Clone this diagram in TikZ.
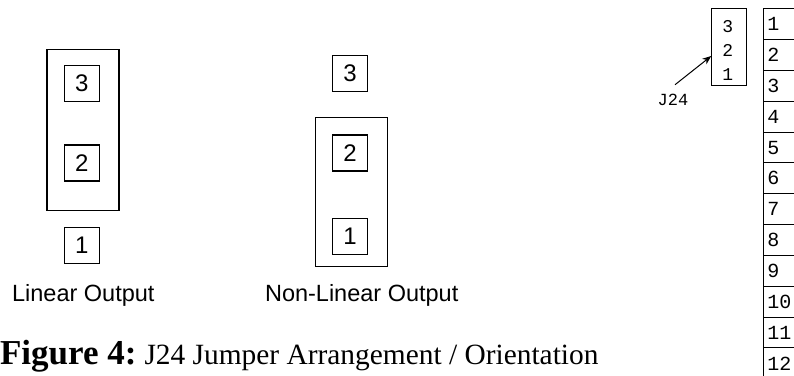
\documentclass[tikz,border=0pt]{standalone}
\usepackage{fontspec}
\setmainfont{Liberation Serif}
\setsansfont{Liberation Sans}
\setmonofont{Liberation Mono}
\usetikzlibrary{arrows.meta,positioning}
\tikzset{
  pinbox/.style={draw, line width=1.2pt, minimum width=35pt, minimum height=36pt, inner sep=0pt, font=\sffamily\fontsize{24}{24}\selectfont},
  jumper/.style={draw, line width=1.2pt, minimum width=72pt, inner sep=0pt},
  outlabel/.style={font=\sffamily\fontsize{23.5}{24}\selectfont, inner sep=0pt, anchor=base},
  tcell/.style={draw, anchor=north west, text width=36pt, inner xsep=3.5pt, inner ysep=0pt, minimum height=30.83pt, align=left, font=\ttfamily\fontsize{20}{20}\selectfont}}

\begin{document}
\begin{tikzpicture}[x=1pt,y=-1pt,line width=1pt]
   \useasboundingbox (0,0) rectangle (794,375);
   \clip (0,0) rectangle (794,375);
   % linear output
   \begin{scope}
    \node[jumper, minimum height=161pt] (linbox) at (82.9,130) {};
    \node[pinbox] (lin3) at (81.7, 83.3) {3};
    \node[pinbox] (lin2) at (81.7,163.0) {2};
    \node[pinbox] (lin1) at (81.7,245.7) {1};
    \node[outlabel] (linlbl) at (83.3,301.7) {Linear Output};
   \end{scope}
   % non-linear output
   \begin{scope}
    \node[jumper, minimum height=149pt] (nonbox) at (351.2,192) {};
    \node[pinbox] (non3) at (350, 73.7) {3};
    \node[pinbox] (non2) at (350,153.0) {2};
    \node[pinbox] (non1) at (350,236.3) {1};
    \node[outlabel] (nonlbl) at (361.7,301.7) {Non-Linear Output};
   \end{scope}
   % connector strip
   \begin{scope}
    \node[draw, minimum width=34.3pt, minimum height=77pt, inner sep=0pt] (j24box) at (728.9,46.8) {};
    \node[align=center, inner sep=0pt, font=\ttfamily\fontsize{18}{24}\selectfont] (j24pins) at (727.8,50.5) {3\\2\\1};
    \node[font=\ttfamily\fontsize{17}{17}\selectfont, inner sep=1pt] (j24lbl) at (673,100) {J24};
    \draw[-{Stealth[length=9pt,width=7pt]}] ([xshift=2pt,yshift=8pt]j24lbl.north) -- ([yshift=-9.2pt]j24box.west);
    \foreach \n in {1,...,12}
      \node[tcell] (row\n) at (763.3,{8.3+(\n-1)*30.83}) {\n};
   \end{scope}
   % caption
   \node[font=\bfseries\fontsize{35}{35}\selectfont, inner sep=0pt, anchor=base east] (figlbl) at (137,364) {Figure 4:};
   \node[font=\fontsize{29.4}{30}\selectfont, inner sep=0pt, right=7pt of figlbl.base east, anchor=base west] (figcap) {J24 Jumper Arrangement / Orientation};
\end{tikzpicture}
\end{document}
